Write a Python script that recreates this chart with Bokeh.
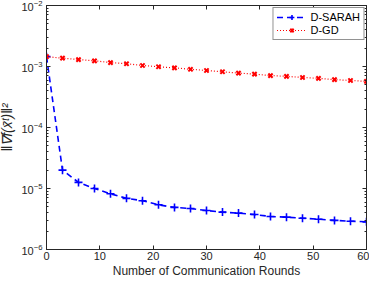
from bokeh.plotting import figure
from bokeh.models import FixedTicker, LinearAxis, LogAxis, Range1d, Legend, LegendItem, CustomJSTickFormatter
from bokeh.embed import file_html
from bokeh.resources import INLINE

rounds = [0, 3, 6, 9, 12, 15, 18, 21, 24, 27, 30, 33, 36, 39, 42, 45, 48, 51, 54, 57, 60]
sarah = [1.45e-3, 2.0e-5, 1.26e-5, 1.0e-5, 8.2e-6, 6.9e-6, 6.3e-6, 5.4e-6, 4.9e-6, 4.7e-6,
         4.36e-6, 4.1e-6, 3.95e-6, 3.74e-6, 3.48e-6, 3.39e-6, 3.26e-6, 3.14e-6, 3.0e-6, 2.91e-6, 2.84e-6]
gd = [1.45e-3, 1.37e-3, 1.30e-3, 1.24e-3, 1.16e-3, 1.11e-3, 1.04e-3, 9.9e-4, 9.5e-4, 9.0e-4,
      8.6e-4, 8.2e-4, 7.8e-4, 7.5e-4, 7.1e-4, 6.9e-4, 6.6e-4, 6.4e-4, 6.1e-4, 5.9e-4, 5.7e-4]
x_ticks = [0, 10, 20, 30, 40, 50, 60]
y_ticks = [1e-6, 1e-5, 1e-4, 1e-3, 1e-2]
y_minor = [k * 10.0 ** e for e in range(-6, -2) for k in range(2, 10)]
x_label = "Number of Communication Rounds"
y_label = "\u2016\u2207f(x\u0304\u1d57)\u2016\u00b2"

FONT = "Liberation Sans"
AX = "#262626"

p = figure(frame_width=320, frame_height=244, y_axis_type="log", output_backend="svg", toolbar_location=None,
           x_range=Range1d(0, 60), y_range=Range1d(1e-6, 1e-2),
           min_border_left=47, min_border_right=3, min_border_top=9, min_border_bottom=30)
p.styles = {"margin-left": "-4px", "margin-top": "-4px"}
p.xgrid.visible = False
p.ygrid.visible = False
p.outline_line_color = AX
p.outline_line_width = 1
p.background_fill_color = "white"
p.border_fill_color = "white"

r1 = p.line(rounds, sarah, line_color="#0000ff", line_width=1.6, line_dash="6 4")
r2 = p.scatter(rounds, sarah, marker="cross", size=8, line_color="#0000ff", line_width=1.6)
r3 = p.line(rounds, gd, line_color="#ff0000", line_width=1.2, line_dash="1 2")
r4 = p.scatter(rounds, gd, marker="x", size=6, line_color="#ff0000", line_width=2)

def style(ax, labels=True):
    ax.axis_line_color = AX
    ax.major_tick_line_color = AX
    ax.minor_tick_line_color = AX
    ax.major_tick_in = 4
    ax.major_tick_out = 0
    ax.minor_tick_in = 2
    ax.minor_tick_out = 0
    ax.major_label_text_font = FONT
    ax.major_label_text_font_size = "11px"
    ax.major_label_text_color = AX
    ax.major_label_standoff = 2
    if not labels:
        ax.formatter = CustomJSTickFormatter(code="return '';")
        ax.major_label_text_font_size = "0px"
        ax.major_label_standoff = 0

xt = FixedTicker(ticks=x_ticks, minor_ticks=[])
yt = FixedTicker(ticks=y_ticks, minor_ticks=y_minor)

p.xaxis.ticker = xt
p.yaxis.ticker = yt
style(p.xaxis[0])
style(p.yaxis[0])
p.xaxis.axis_label = x_label
p.yaxis.axis_label = y_label
for ax in (p.xaxis[0], p.yaxis[0]):
    ax.axis_label_text_font = FONT
    ax.axis_label_text_font_size = "12px"
    ax.axis_label_text_font_style = "normal"
    ax.axis_label_text_color = AX
p.yaxis.axis_label_text_font_size = "14px"
p.yaxis.axis_label_text_font_style = "italic"
p.xaxis.axis_label_standoff = 1
p.yaxis.axis_label_standoff = 3
p.yaxis.major_label_standoff = 4

top = LinearAxis(ticker=xt)
style(top, labels=False)
p.add_layout(top, "above")
right = LogAxis(ticker=yt)
style(right, labels=False)
p.add_layout(right, "right")

legend = Legend(items=[LegendItem(label="D-SARAH", renderers=[r1, r2]),
                       LegendItem(label="D-GD", renderers=[r3, r4])],
                location="top_right")
legend.label_text_font = FONT
legend.label_text_font_size = "11px"
legend.label_text_color = "black"
legend.border_line_color = AX
legend.border_line_width = 1
legend.glyph_width = 30
legend.glyph_height = 12
legend.label_height = 12
legend.spacing = 1
legend.padding = 3
legend.margin = 2
legend.label_standoff = 4
legend.background_fill_alpha = 1
p.add_layout(legend)

open("out.html", "w").write(file_html(p, INLINE))
